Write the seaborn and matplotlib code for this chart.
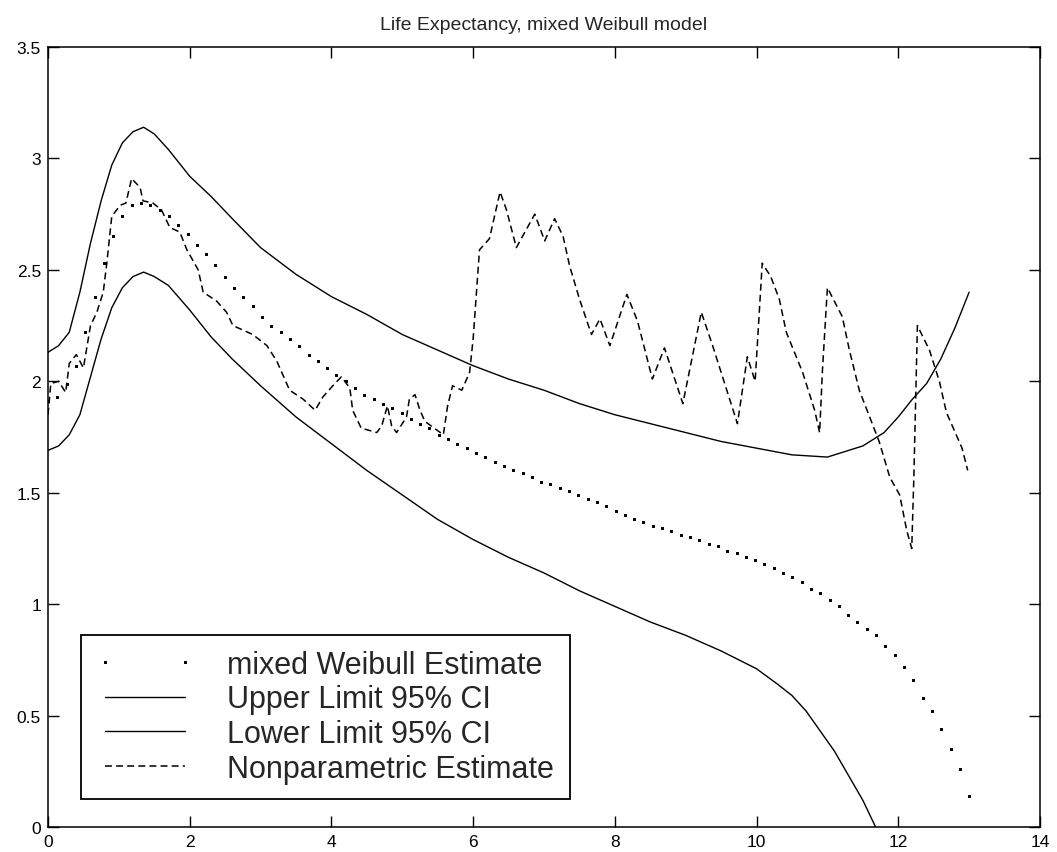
import matplotlib
matplotlib.use("Agg")
import matplotlib.pyplot as plt
import numpy as np
import seaborn as sns

# mixed Weibull estimate, sampled on an even grid from 0 to 13
weibull_y = [1.91, 1.93, 1.99, 2.07, 2.22, 2.38, 2.53, 2.65, 2.74, 2.79,
             2.80, 2.79, 2.77, 2.74, 2.70, 2.66, 2.61, 2.57, 2.52, 2.47,
             2.42, 2.38, 2.34, 2.29, 2.25, 2.22, 2.19, 2.16, 2.12, 2.09,
             2.06, 2.03, 2.00, 1.97, 1.94, 1.92, 1.90, 1.88, 1.86, 1.83,
             1.81, 1.79, 1.76, 1.74, 1.72, 1.70, 1.68, 1.66, 1.64, 1.62,
             1.60, 1.59, 1.57, 1.55, 1.54, 1.52, 1.51, 1.49, 1.47, 1.46,
             1.44, 1.42, 1.40, 1.38, 1.37, 1.35, 1.34, 1.33, 1.31, 1.30,
             1.29, 1.27, 1.26, 1.24, 1.23, 1.21, 1.20, 1.18, 1.16, 1.14,
             1.12, 1.10, 1.07, 1.05, 1.02, 0.99, 0.95, 0.92, 0.89, 0.86,
             0.81, 0.77, 0.72, 0.66, 0.58, 0.52, 0.44, 0.35, 0.26, 0.14]
weibull_x = np.linspace(0, 13, len(weibull_y))

upper_x = [0, 0.15, 0.3, 0.45, 0.6, 0.75, 0.9, 1.05, 1.2, 1.35, 1.5, 1.7,
           2.0, 2.3, 2.6, 3.0, 3.5, 4.0, 4.5, 5.0, 5.5, 6.0, 6.5, 7.0, 7.5,
           8.0, 8.5, 9.0, 9.5, 10.0, 10.5, 11.0, 11.5, 11.8, 12.0, 12.2,
           12.4, 12.6, 12.8, 13.0]
upper_y = [2.13, 2.16, 2.22, 2.40, 2.62, 2.81, 2.97, 3.07, 3.12, 3.14, 3.11,
           3.04, 2.92, 2.83, 2.73, 2.60, 2.48, 2.38, 2.30, 2.21, 2.14, 2.07,
           2.01, 1.96, 1.90, 1.85, 1.81, 1.77, 1.73, 1.70, 1.67, 1.66, 1.71,
           1.77, 1.84, 1.92, 1.99, 2.10, 2.24, 2.40]

lower_x = [0, 0.15, 0.3, 0.45, 0.6, 0.75, 0.9, 1.05, 1.2, 1.35, 1.5, 1.7,
           2.0, 2.3, 2.6, 3.0, 3.5, 4.0, 4.5, 5.0, 5.5, 6.0, 6.5, 7.0, 7.5,
           8.0, 8.5, 9.0, 9.5, 10.0, 10.3, 10.5, 10.7, 10.9, 11.1, 11.3,
           11.5, 11.68]
lower_y = [1.69, 1.71, 1.76, 1.85, 2.02, 2.19, 2.33, 2.42, 2.47, 2.49, 2.47,
           2.43, 2.32, 2.20, 2.10, 1.98, 1.84, 1.72, 1.60, 1.49, 1.38, 1.29,
           1.21, 1.14, 1.06, 0.99, 0.92, 0.86, 0.79, 0.71, 0.64, 0.59, 0.52,
           0.43, 0.34, 0.23, 0.12, 0.0]

nonpar_x = [0.00, 0.04, 0.15, 0.25, 0.30, 0.40, 0.50, 0.60, 0.69, 0.78, 0.83,
            0.90, 1.02, 1.10, 1.18, 1.30, 1.34, 1.48, 1.60, 1.72, 1.86, 1.96,
            2.12, 2.19, 2.38, 2.52, 2.61, 2.89, 3.09, 3.23, 3.41, 3.60, 3.77,
            3.88, 4.02, 4.14, 4.26, 4.30, 4.42, 4.64, 4.71, 4.79, 4.85, 4.92,
            5.06, 5.10, 5.18, 5.25, 5.32, 5.58, 5.64, 5.71, 5.84, 5.95, 6.00,
            6.09, 6.23, 6.38, 6.47, 6.61, 6.87, 7.01, 7.15, 7.27, 7.36, 7.50,
            7.67, 7.79, 7.93, 8.17, 8.32, 8.53, 8.70, 8.96, 9.22, 9.38, 9.73,
            9.87, 9.98, 10.08, 10.20, 10.32, 10.42, 10.65, 10.82, 10.89, 10.93,
            11.00, 11.21, 11.31, 11.45, 11.73, 11.88, 12.02, 12.12, 12.19,
            12.22, 12.27, 12.44, 12.58, 12.68, 12.90, 12.98]
nonpar_y = [1.85, 1.99, 2.00, 1.95, 2.08, 2.12, 2.06, 2.25, 2.31, 2.40, 2.53,
            2.74, 2.79, 2.80, 2.91, 2.87, 2.81, 2.80, 2.77, 2.69, 2.67, 2.59,
            2.50, 2.40, 2.36, 2.31, 2.25, 2.21, 2.16, 2.09, 1.96, 1.92, 1.87,
            1.93, 1.98, 2.02, 1.97, 1.87, 1.79, 1.77, 1.80, 1.89, 1.80, 1.77,
            1.84, 1.92, 1.94, 1.87, 1.82, 1.76, 1.89, 1.98, 1.96, 2.04, 2.19,
            2.59, 2.64, 2.85, 2.77, 2.60, 2.75, 2.63, 2.73, 2.65, 2.52, 2.37,
            2.21, 2.28, 2.16, 2.39, 2.27, 2.01, 2.15, 1.90, 2.31, 2.16, 1.81,
            2.11, 2.00, 2.53, 2.47, 2.37, 2.22, 2.04, 1.87, 1.77, 2.05,
            2.42, 2.29, 2.14, 1.96, 1.73, 1.57, 1.49, 1.33, 1.25,
            1.57, 2.25, 2.14, 2.00, 1.86, 1.70, 1.60]

labels = ["mixed Weibull Estimate", "Upper Limit 95% CI",
          "Lower Limit 95% CI", "Nonparametric Estimate"]
x_ticks = [0, 2, 4, 6, 8, 10, 12, 14]
y_ticks = [0, 0.5, 1, 1.5, 2, 2.5, 3, 3.5]
y_tick_labels = ["0", "0.5", "1", "1.5", "2", "2.5", "3", "3.5"]

sns.set_style("ticks")
plt.rcParams["font.family"] = ["Liberation Sans", "DejaVu Sans"]
plt.rcParams["lines.scale_dashes"] = False

fig = plt.figure(figsize=(10.57, 8.53), dpi=100)
ax = fig.add_axes([0.0454, 0.0293, 0.9385, 0.9144])

sns.lineplot(x=weibull_x, y=weibull_y, ax=ax, color="black", marker="s",
             markersize=3.2, linestyle="none", label=labels[0])
sns.lineplot(x=upper_x, y=upper_y, ax=ax, color="black", linewidth=1.0,
             label=labels[1])
sns.lineplot(x=lower_x, y=lower_y, ax=ax, color="black", linewidth=1.0,
             label=labels[2])
sns.lineplot(x=nonpar_x, y=nonpar_y, ax=ax, color="black", linewidth=1.1,
             dashes=False, label=labels[3])
ax.lines[-1].set_dashes((5, 3))

ax.set_xlim(0, 14)
ax.set_ylim(0, 3.5)
ax.set_xticks(x_ticks)
ax.set_yticks(y_ticks)
ax.set_yticklabels(y_tick_labels)
ax.tick_params(direction="in", length=8, width=1.0, top=True, right=True,
               labelsize=12.5, colors="black", pad=5)
for sp in ax.spines.values():
    sp.set_visible(True)
    sp.set_color("black")
    sp.set_linewidth(1.1)

ax.set_title("Life Expectancy, mixed Weibull model", fontsize=14, pad=13)

leg = ax.legend(loc="lower left", bbox_to_anchor=(0.033, 0.036),
                borderaxespad=0, fontsize=22, numpoints=2, frameon=True,
                fancybox=False, framealpha=1, edgecolor="black",
                handlelength=3.2, handletextpad=1.1, labelspacing=0.15,
                borderpad=0.5)
leg.get_frame().set_linewidth(1.3)

fig.savefig("out.png", dpi=100)
